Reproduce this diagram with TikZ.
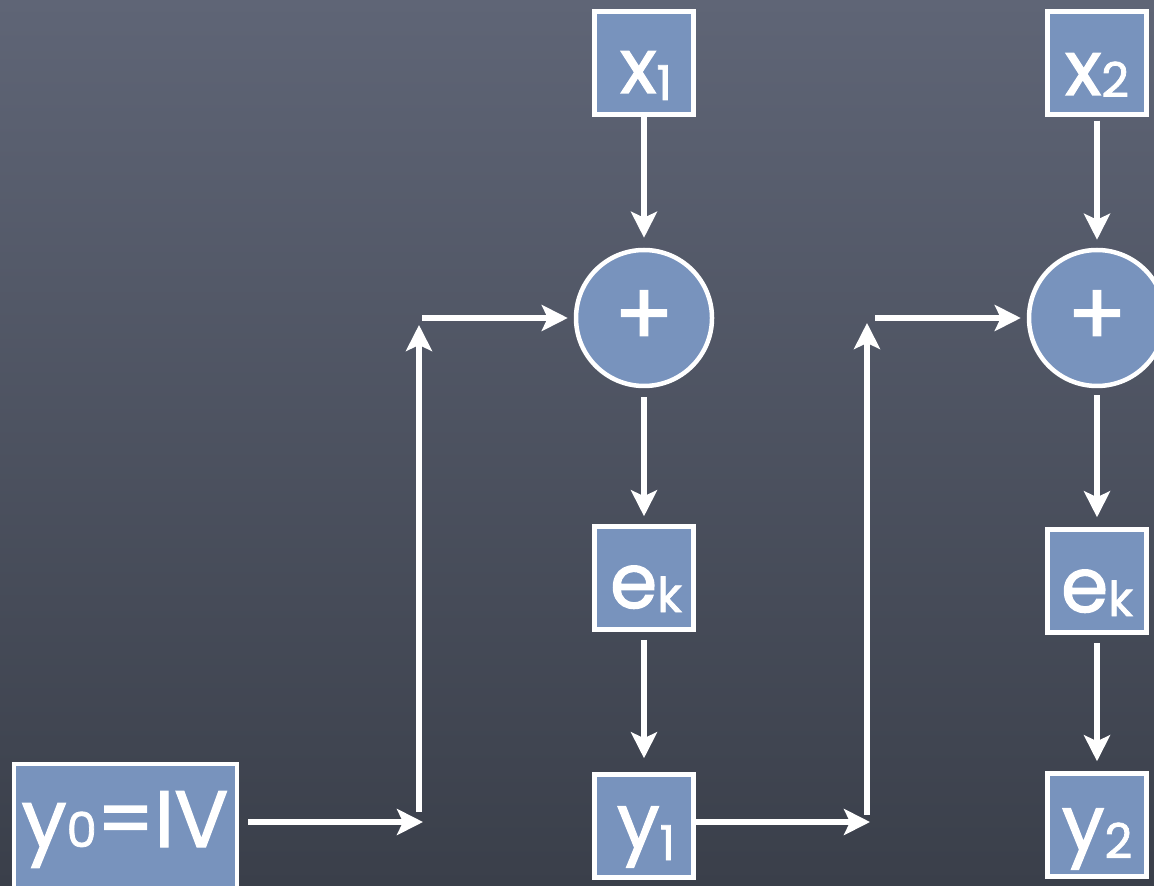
\documentclass[tikz,border=0pt]{standalone}
\usepackage{fontspec}
\setmainfont{Poppins}[FakeBold=1.6]
\usetikzlibrary{arrows.meta}
\definecolor{boardtop}{HTML}{5F6576}
\definecolor{boardbot}{HTML}{3A3F4A}
\definecolor{boxfill}{HTML}{7893BD}
\tikzset{
  blk/.style={draw=white, line width=2.25pt, fill=boxfill, inner sep=0pt},
  sq/.style={blk, minimum width=49.5pt, minimum height=51.5pt},
  sumnode/.style={blk, circle, minimum size=68pt},
  lbl/.style={text=white, inner sep=0pt, anchor=base},
  arr/.style={white, line width=2.75pt, -{Stealth[length=13pt, width=13pt, inset=3pt]}},
}
\newcommand{\bigtxt}[1]{{\fontsize{38}{38}\selectfont #1}}
\newcommand{\smltxt}[1]{{\fontsize{24}{24}\selectfont #1}}
\begin{document}
\begin{tikzpicture}[x=0.5pt, y=-0.5pt]
\useasboundingbox (0,0) rectangle (1154,886);
\clip (0,0) rectangle (1154,886);
\fill[top color=boardtop, bottom color=boardbot] (0,0) rectangle (1154,886);

% column 1
\node[sq] (x1) at (644,63) {};
\node[sumnode] (s1) at (644,318) {};
\node[sq] (e1) at (644,578) {};
\node[sq] (y1) at (644,826) {};
% column 2
\node[sq] (x2) at (1097,63) {};
\node[sumnode] (s2) at (1097,318) {};
\node[sq] (e2) at (1097,581) {};
\node[sq] (y2) at (1097,825) {};
% initial value
\node[blk, minimum width=111.5pt, minimum height=64pt] (y0) at (125.5,828) {};

% labels
\node[lbl] (tx1) at (646,93) {\bigtxt{x}\raisebox{-3.5pt}{\smltxt{1}}};
\node[lbl] (tx2) at (1097,95) {\bigtxt{x}\raisebox{-1pt}{\smltxt{2}}};
\node[text=white, inner sep=0pt] (tp1) at (644,318) {\fontsize{44}{44}\selectfont +};
\node[text=white, inner sep=0pt] (tp2) at (1097,318) {\fontsize{44}{44}\selectfont +};
\node[lbl] (te1) at (646,608) {\bigtxt{e}\raisebox{-2pt}{\smltxt{k}}};
\node[lbl] (te2) at (1097,612) {\bigtxt{e}\raisebox{-2pt}{\smltxt{k}}};
\node[lbl] (ty1) at (646,848) {\bigtxt{y}\raisebox{-6pt}{\smltxt{1}}};
\node[lbl] (ty2) at (1097,850) {\bigtxt{y}\raisebox{-4pt}{\smltxt{2}}};
\node[lbl] (ty0) at (125,847) {{\fontsize{40}{40}\selectfont y}\smltxt{0}{\fontsize{40}{40}\selectfont =IV}};

% connector points
\coordinate (a1) at (423,822);
\coordinate (v1b) at (419,812);
\coordinate (v1t) at (419,325);
\coordinate (h1) at (422,318);
\coordinate (a2) at (870,822);
\coordinate (v2b) at (867,815);
\coordinate (v2t) at (867,323);
\coordinate (h2) at (875,318);

% column 1 arrows
\draw[arr, shorten >=5pt] (x1.south) -- (s1.north);
\draw[arr, shorten <=4.5pt, shorten >=4pt] (s1.south) -- (e1.north);
\draw[arr, shorten <=4pt, shorten >=7pt] (e1.south) -- (y1.north);
% feed from y0
\draw[arr, shorten <=4.5pt] (y0.east |- a1) -- (a1);
\draw[arr] (v1b) -- (v1t);
\draw[arr, shorten >=3pt] (h1) -- (s1.west);
% feed from y1
\draw[arr] (y1.east |- a2) -- (a2);
\draw[arr] (v2b) -- (v2t);
\draw[arr, shorten >=3pt] (h2) -- (s2.west);
% column 2 arrows
\draw[arr, shorten <=2pt, shorten >=4pt] (x2.south) -- (s2.north);
\draw[arr, shorten <=3.5pt, shorten >=5pt] (s2.south) -- (e2.north);
\draw[arr, shorten <=4pt, shorten >=5pt] (e2.south) -- (y2.north);
\end{tikzpicture}
\end{document}
